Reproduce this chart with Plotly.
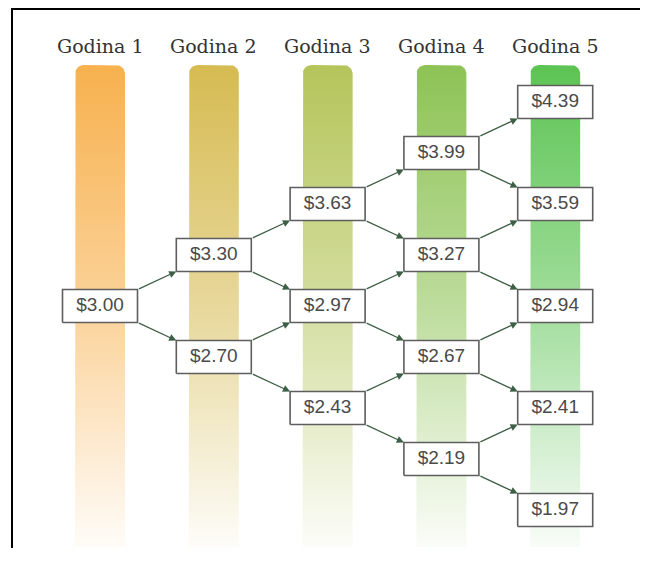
import numpy as np
import plotly.graph_objects as go

# ---------------- data ----------------
years = ["Godina 1", "Godina 2", "Godina 3", "Godina 4", "Godina 5"]
prices_y1 = [3.00]
prices_y2 = [3.30, 2.70]
prices_y3 = [3.63, 2.97, 2.43]
prices_y4 = [3.99, 3.27, 2.67, 2.19]
prices_y5 = [4.39, 3.59, 2.94, 2.41, 1.97]
prices = [prices_y1, prices_y2, prices_y3, prices_y4, prices_y5]
bar_colors = ["247,177,78", "214,187,82", "181,197,90", "141,195,85", "92,196,83"]

# ---------------- geometry (page has an 8px body margin) ----------------
W, H = 632, 540
px_x0, px_step = 92.0, 113.8         # pixel of year 1, pixels per year
px_y0, px_lvl = 298.0, 51.0          # pixel of level 0, pixels per level
xr = [1 - px_x0 / px_step, 1 + (W - px_x0) / px_step]
yr = [-(H - px_y0) / px_lvl, px_y0 / px_lvl]
ux = 1 / px_step   # data units per pixel (x)
uy = 1 / px_lvl    # data units per pixel (y)

box_hw = 37.5 * ux
box_hh = 16.5 * uy
bar_hw = 25 * ux
bar_top = (px_y0 - 57) * uy
bar_bot = -(539 - px_y0) * uy
rad_px = 9

fig = go.Figure()

# gradient bars with rounded top
for k, col in enumerate(bar_colors):
    xc = k + 1
    xs, ys = [], []
    xs += [xc - bar_hw, xc - bar_hw]
    ys += [bar_bot, bar_top - rad_px * uy]
    t = np.linspace(np.pi, np.pi / 2, 10)
    xs += list(xc - bar_hw + rad_px * ux + rad_px * ux * np.cos(t))
    ys += list(bar_top - rad_px * uy + rad_px * uy * np.sin(t))
    t = np.linspace(np.pi / 2, 0, 10)
    xs += list(xc + bar_hw - rad_px * ux + rad_px * ux * np.cos(t))
    ys += list(bar_top - rad_px * uy + rad_px * uy * np.sin(t))
    xs += [xc + bar_hw, xc - bar_hw]
    ys += [bar_bot, bar_bot]
    fig.add_trace(go.Scatter(
        x=xs, y=ys, mode="lines", fill="toself", line=dict(width=0),
        fillgradient=dict(type="vertical",
                          colorscale=[[0, f"rgba({col},0.04)"],
                                      [0.5, f"rgba({col},0.58)"],
                                      [1, f"rgba({col},1)"]]),
        hoverinfo="skip", showlegend=False))

# nodes
node_x, node_y, node_txt = [], [], []
for k, col_prices in enumerate(prices):
    for i, v in enumerate(col_prices):
        node_x.append(k + 1)
        node_y.append(k - 2 * i)
        node_txt.append(f"${v:.2f}")

# boxes
for x, y in zip(node_x, node_y):
    fig.add_trace(go.Scatter(
        x=[x - box_hw, x + box_hw, x + box_hw, x - box_hw, x - box_hw],
        y=[y - box_hh, y - box_hh, y + box_hh, y + box_hh, y - box_hh],
        mode="lines", fill="toself", fillcolor="white",
        line=dict(color="#5e5e5e", width=1.6),
        hoverinfo="skip", showlegend=False))

fig.add_trace(go.Scatter(
    x=node_x, y=node_y, text=node_txt, mode="text",
    textfont=dict(family="Liberation Sans, Arial, sans-serif", size=19, color="#4a4a4a"),
    hoverinfo="skip", showlegend=False))

# arrows
annotations = []
for k in range(len(prices) - 1):
    for i in range(len(prices[k])):
        x = k + 1
        y = k - 2 * i
        # up
        annotations.append(dict(
            x=x + 1 - box_hw, y=(y + 1) - box_hh, ax=x + box_hw, ay=y + box_hh,
            xref="x", yref="y", axref="x", ayref="y", text="", showarrow=True,
            arrowhead=2, arrowsize=1.1, arrowwidth=1.3, arrowcolor="#3d5f45"))
        # down
        annotations.append(dict(
            x=x + 1 - box_hw, y=(y - 1) + box_hh, ax=x + box_hw, ay=y - box_hh,
            xref="x", yref="y", axref="x", ayref="y", text="", showarrow=True,
            arrowhead=2, arrowsize=1.1, arrowwidth=1.3, arrowcolor="#3d5f45"))

# year titles
for k, name in enumerate(years):
    annotations.append(dict(
        x=k + 1, y=1 - 38 / H, xref="x", yref="paper", text=name, showarrow=False,
        font=dict(family="DejaVu Serif, serif", size=19, color="#333333"),
        xanchor="center", yanchor="middle"))

fig.update_layout(
    width=W, height=H, autosize=False,
    margin=dict(l=0, r=0, t=0, b=0),
    paper_bgcolor="white", plot_bgcolor="white",
    xaxis=dict(range=xr, visible=False, fixedrange=True),
    yaxis=dict(range=yr, visible=False, fixedrange=True),
    annotations=annotations,
    shapes=[
        dict(type="line", xref="paper", yref="paper", x0=3 / W, x1=1, y0=1 - 1 / H, y1=1 - 1 / H,
             line=dict(color="black", width=2)),
        dict(type="line", xref="paper", yref="paper", x0=4 / W, x1=4 / W, y0=0, y1=1,
             line=dict(color="black", width=2)),
    ],
    showlegend=False,
)

fig.write_html("out.html")
